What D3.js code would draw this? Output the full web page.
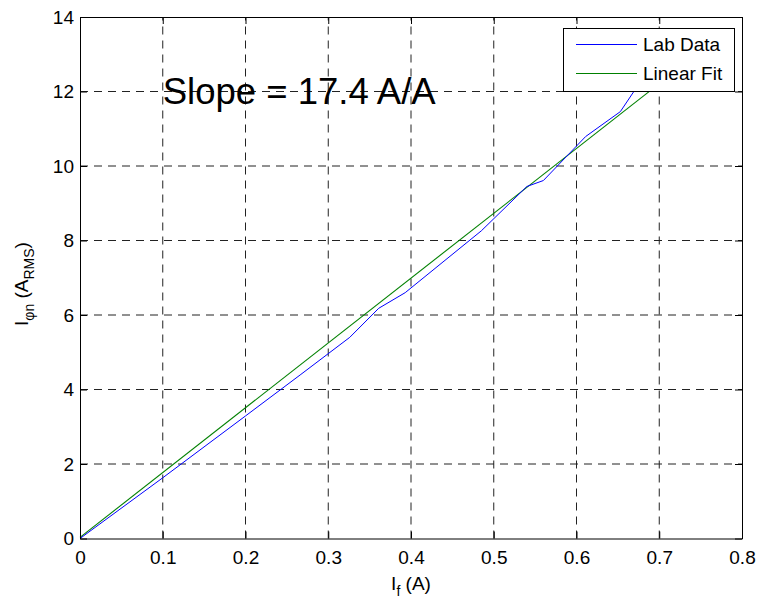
<!DOCTYPE html>
<html>
<head>
<meta charset="utf-8">
<script src="https://cdn.jsdelivr.net/npm/d3@7"></script>
<style>
  html, body { margin: 0; padding: 0; background: #fff; }
  svg { display: block; }
  text { font-family: "Liberation Sans", Arial, Helvetica, sans-serif; fill: #000; }
</style>
</head>
<body>
<svg id="chart" width="758" height="601"></svg>
<script>
// ---- data ----
const labX = [0, 0.1, 0.2, 0.266, 0.326, 0.361, 0.393, 0.485, 0.540, 0.560, 0.611, 0.653, 0.669, 0.69];
const labY = [0, 1.63, 3.29, 4.39, 5.40, 6.18, 6.60, 8.26, 9.45, 9.61, 10.79, 11.46, 11.99, 12.7];
const fitX = [0, 0.7];
const fitY = [0.03, 12.21];
const xTicks = [0, 0.1, 0.2, 0.3, 0.4, 0.5, 0.6, 0.7, 0.8];
const yTicks = [0, 2, 4, 6, 8, 10, 12, 14];
const seriesNames = ["Lab Data", "Linear Fit"];
const seriesColors = ["#0000ff", "#008000"];
const annotation = "Slope = 17.4 A/A";

// ---- layout ----
const svg = d3.select("#chart");
const L = 80, R = 742, T = 17, B = 538.5;
const FS = 19;
const x = d3.scaleLinear().domain([0, 0.8]).range([L, R]);
const y = d3.scaleLinear().domain([0, 14]).range([B, T]);

// grid
const grid = svg.append("g");
grid.selectAll("line.gx").data(xTicks.slice(1, -1)).enter().append("line")
  .attr("x1", d => x(d)).attr("x2", d => x(d)).attr("y1", B).attr("y2", T)
  .attr("stroke", "#222").attr("stroke-width", 1).attr("stroke-dasharray", "8,6");
grid.selectAll("line.gy").data(yTicks.slice(1, -1)).enter().append("line")
  .attr("y1", d => y(d)).attr("y2", d => y(d)).attr("x1", L).attr("x2", R)
  .attr("stroke", "#222").attr("stroke-width", 1).attr("stroke-dasharray", "8,6");

// lines
const line = d3.line().x(d => x(d[0])).y(d => y(d[1]));
const lab = labX.map((v, i) => [v, labY[i]]);
const fit = fitX.map((v, i) => [v, fitY[i]]);
svg.append("path").attr("d", line(fit)).attr("fill", "none")
  .attr("stroke", seriesColors[1]).attr("stroke-width", 1.1);
svg.append("path").attr("d", line(lab)).attr("fill", "none")
  .attr("stroke", seriesColors[0]).attr("stroke-width", 1);

// axes (ticks inward, box)
const tickLen = 7;
const axB = d3.axisBottom(x).tickValues(xTicks).tickFormat(d3.format("")).tickSizeInner(-tickLen).tickSizeOuter(0).tickPadding(12);
const axL = d3.axisLeft(y).tickValues(yTicks).tickFormat(d3.format("")).tickSizeInner(-tickLen).tickSizeOuter(0).tickPadding(6);
const axT = d3.axisTop(x).tickValues(xTicks).tickFormat("").tickSizeInner(-tickLen).tickSizeOuter(0);
const axR = d3.axisRight(y).tickValues(yTicks).tickFormat("").tickSizeInner(-tickLen).tickSizeOuter(0);

function style(g) {
  g.select(".domain").attr("stroke", "#000").attr("stroke-width", 1);
  g.selectAll(".tick line").attr("stroke", "#000").attr("stroke-width", 1);
  g.selectAll(".tick text").attr("font-size", FS).attr("font-family", '"Liberation Sans", Arial, sans-serif').attr("fill", "#000");
}
svg.append("g").attr("transform", `translate(0,${B})`).call(axB).call(style);
svg.append("g").attr("transform", `translate(${L},0)`).call(axL).call(style);
svg.append("g").attr("transform", `translate(0,${T})`).call(axT).call(style);
svg.append("g").attr("transform", `translate(${R},0)`).call(axR).call(style);

// annotation
svg.append("text").attr("x", x(0.1)).attr("y", y(12)).attr("dy", "0.35em")
  .attr("font-size", 36.5).text(annotation);

// x label
const xl = svg.append("text").attr("x", (L + R) / 2).attr("y", 590)
  .attr("text-anchor", "middle").attr("font-size", FS);
xl.append("tspan").text("I");
xl.append("tspan").attr("font-size", 14).attr("dy", 6).text("f");
xl.append("tspan").attr("dy", -6).text(" (A)");

// y label
const yl = svg.append("text").attr("transform", `translate(28,284) rotate(-90)`)
  .attr("text-anchor", "middle").attr("font-size", FS);
yl.append("tspan").text("I");
yl.append("tspan").attr("font-size", 14).attr("dy", 6).text("\u03C6n");
yl.append("tspan").attr("dy", -6).text(" (A");
yl.append("tspan").attr("font-size", 14).attr("dy", 6).text("RMS");
yl.append("tspan").attr("dy", -6).text(")");

// legend
const lg = svg.append("g");
lg.append("rect").attr("x", 563.5).attr("y", 28.5).attr("width", 171).attr("height", 63)
  .attr("fill", "#fff").attr("stroke", "#000").attr("stroke-width", 1);
seriesNames.forEach((name, i) => {
  const ly = 44.5 + i * 29;
  lg.append("line").attr("x1", 576).attr("x2", 637).attr("y1", ly).attr("y2", ly)
    .attr("stroke", seriesColors[i]).attr("stroke-width", 1);
  lg.append("text").attr("x", 643).attr("y", ly).attr("dy", "0.35em")
    .attr("font-size", FS).text(name);
});
</script>
</body>
</html>
